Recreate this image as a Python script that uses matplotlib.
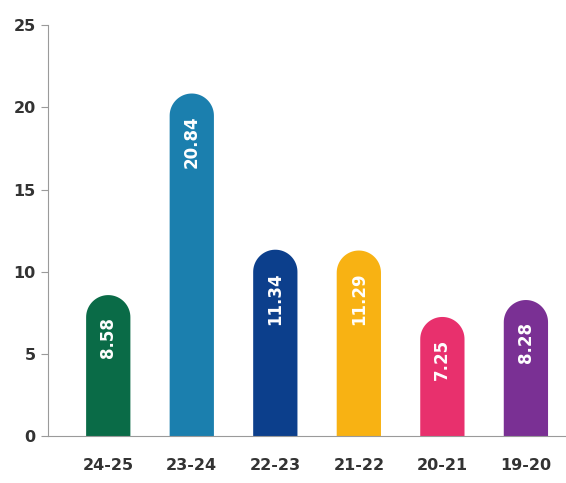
import numpy as np
import matplotlib.pyplot as plt
from matplotlib.patches import Polygon

years = ["24-25", "23-24", "22-23", "21-22", "20-21", "19-20"]
values = [8.58, 20.84, 11.34, 11.29, 7.25, 8.28]
colors = ["#0a6b47", "#1b7fae", "#0c3f8c", "#f8b213", "#e8306d", "#7a3094"]

fig = plt.figure(figsize=(5.66, 4.83), dpi=100)
ax = fig.add_axes([0.085, 0.097, 0.915, 0.851])

x = np.arange(len(years))
bar_width = 0.53
ax.set_xlim(-0.72, 5.48)
ax.set_ylim(0, 25)

# radius of the rounded top in data units (half the bar width in pixels)
fig.canvas.draw()
px_per_x = ax.transData.transform((1, 0))[0] - ax.transData.transform((0, 0))[0]
px_per_y = ax.transData.transform((0, 1))[1] - ax.transData.transform((0, 0))[1]
ry = bar_width / 2 * px_per_x / px_per_y

t = np.linspace(0, np.pi, 40)
for xi, v, c in zip(x, values, colors):
    half = bar_width / 2
    arc_x = xi + half * np.cos(t)
    arc_y = (v - ry) + ry * np.sin(t)
    verts = [(xi - half, 0), (xi + half, 0)] + list(zip(arc_x, arc_y))
    ax.add_patch(Polygon(verts, closed=True, facecolor=c, edgecolor="none", zorder=2))
    ax.text(xi, v - 1.35, f"{v:.2f}", rotation=90, ha="center", va="top",
            color="white", fontsize=12, fontweight="bold", zorder=3)

ax.set_xticks(x, years)
ax.set_yticks([0, 5, 10, 15, 20, 25])
for s in ["top", "right"]:
    ax.spines[s].set_visible(False)
ax.spines["left"].set_color("#9a9a9a")
ax.spines["bottom"].set_color("#9a9a9a")
ax.tick_params(axis="x", length=0, pad=16, labelsize=11.5, labelcolor="#333333")
ax.tick_params(axis="y", length=5, color="#9a9a9a", pad=4, labelsize=11.5, labelcolor="#333333")
for lab in ax.get_xticklabels() + ax.get_yticklabels():
    lab.set_fontweight("bold")

fig.savefig("out.png", dpi=100)
